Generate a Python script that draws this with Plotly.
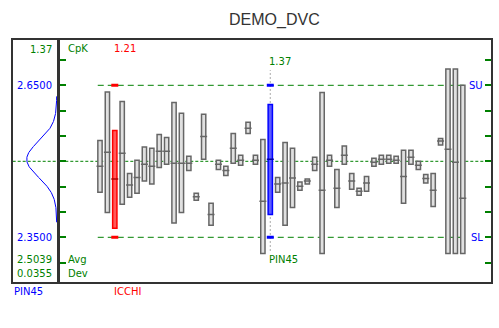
import numpy as np
import plotly.graph_objects as go

# ---------------- data ----------------
names = [f"DIM{i + 1:02d}" for i in range(50)]
names[2] = "ICCHI"
names[23] = "PIN45"

upper = [2.541, 2.637, 2.561, 2.618, 2.476, 2.502, 2.528, 2.526, 2.553, 2.547,
         2.616, 2.595, 2.510, 2.437, 2.593, 2.417, 2.502, 2.490, 2.555, 2.512,
         2.577, 2.512, 2.543, 2.612, 2.468, 2.537, 2.526, 2.459, 2.465, 2.508,
         2.636, 2.512, 2.484, 2.530, 2.476, 2.447, 2.470, 2.506, 2.512, 2.512,
         2.510, 2.522, 2.522, 2.500, 2.474, 2.476, 2.545, 2.682, 2.682, 2.650]
median = [2.490, 2.518, 2.465, 2.516, 2.453, 2.468, 2.494, 2.490, 2.520, 2.520,
          2.496, 2.496, 2.496, 2.430, 2.549, 2.395, 2.494, 2.482, 2.526, 2.502,
          2.565, 2.502, 2.421, 2.504, 2.455, 2.457, 2.467, 2.451, 2.461, 2.494,
          2.443, 2.502, 2.447, 2.512, 2.461, 2.441, 2.457, 2.498, 2.504, 2.504,
          2.502, 2.470, 2.508, 2.492, 2.466, 2.443, 2.540, 2.524, 2.498, 2.427]
lower = [2.439, 2.399, 2.368, 2.415, 2.429, 2.437, 2.461, 2.455, 2.488, 2.494,
         2.378, 2.399, 2.482, 2.423, 2.504, 2.374, 2.484, 2.472, 2.496, 2.492,
         2.555, 2.494, 2.318, 2.395, 2.439, 2.374, 2.409, 2.443, 2.455, 2.482,
         2.318, 2.490, 2.409, 2.494, 2.445, 2.433, 2.441, 2.490, 2.494, 2.496,
         2.496, 2.417, 2.494, 2.484, 2.457, 2.411, 2.532, 2.318, 2.318, 2.318]

USL, LSL, NOM = 2.65, 2.35, 2.50
sel_name, sel_cpk, sel_avg, sel_dev = "PIN45", 1.37, 2.5039, 0.0355
hl_name, hl_cpk = "ICCHI", 1.21
title = "DEMO_DVC"

# ---------------- helpers ----------------
W, H = 499, 328
def px(x): return x / W
def py(y): return 1 - y / H

GREEN, RED, BLUE, DARK = "#008000", "#ff0000", "#0000ff", "#333333"
FONT = "DejaVu Sans"

n = len(names)
xs = list(range(n))
sel = names.index(sel_name)
hl = names.index(hl_name)

fill = ["#e0e0e0"] * n
edge = ["#666666"] * n
medc = ["#666666"] * n
fill[hl], edge[hl], medc[hl] = "#ff5a5a", RED, "#b00000"
fill[sel], edge[sel], medc[sel] = "#5a5aff", BLUE, "#0000a0"

fig = go.Figure()
fig.add_bar(x=xs, y=[u - l for u, l in zip(upper, lower)], base=lower, width=0.58,
            marker=dict(color=fill, line=dict(color=edge, width=1.5)),
            xaxis="x", yaxis="y", showlegend=False, hoverinfo="skip")
fig.add_scatter(x=xs, y=median, mode="markers",
                marker=dict(symbol="line-ew", size=5, line=dict(color=medc, width=1.5)),
                xaxis="x", yaxis="y", showlegend=False, hoverinfo="skip")
fig.add_scatter(x=[hl, hl, sel, sel], y=[USL, LSL, USL, LSL], mode="markers",
                marker=dict(symbol="line-ew", size=5,
                            line=dict(color=[RED, RED, BLUE, BLUE], width=3)),
                xaxis="x", yaxis="y", showlegend=False, hoverinfo="skip")

# normal curve of selected feature
yy = np.linspace(sel_avg - 3.5 * sel_dev, sel_avg + 3.5 * sel_dev, 300)
pdf = np.exp(-0.5 * ((yy - sel_avg) / sel_dev) ** 2) / (sel_dev * np.sqrt(2 * np.pi))
pmax = pdf.max()
fig.add_scatter(x=pdf, y=yy, mode="lines", line=dict(color=BLUE, width=1),
                xaxis="x2", yaxis="y2", showlegend=False, hoverinfo="skip")

yr = [2.2618, 2.7394]
ydom = [py(282), py(40)]
fig.update_layout(
    width=W, height=H, margin=dict(l=0, r=0, t=0, b=0),
    paper_bgcolor="white", plot_bgcolor="white", barmode="overlay",
    xaxis=dict(domain=[px(60.3), px(490.7)], range=[-5.36, 52.77], anchor="y",
               showline=True, mirror=True, linecolor=DARK, linewidth=2,
               showgrid=False, zeroline=False, showticklabels=False, ticks=""),
    yaxis=dict(domain=ydom, range=yr, anchor="x",
               showline=True, mirror="ticks", linecolor=DARK, linewidth=2,
               ticks="inside", ticklen=6, tickwidth=1.5, tickcolor=GREEN,
               tick0=2.5, dtick=0.05,
               showgrid=False, zeroline=False, showticklabels=False),
    xaxis2=dict(domain=[px(12.7), px(57.3)], range=[pmax * 1.467, -pmax * 0.019], anchor="y2",
                showline=True, mirror=True, linecolor=DARK, linewidth=2,
                showgrid=False, zeroline=False, showticklabels=False, ticks=""),
    yaxis2=dict(domain=ydom, range=yr, anchor="x2",
                showline=True, mirror=True, linecolor=DARK, linewidth=2,
                showgrid=False, zeroline=False, showticklabels=False, ticks=""),
)

shapes = [
    dict(type="line", xref="x domain", yref="y", x0=0, x1=1, y0=NOM, y1=NOM,
         line=dict(color=GREEN, width=1, dash="3px,2px"), layer="below"),
    dict(type="line", xref="x2 domain", yref="y2", x0=0, x1=1, y0=NOM, y1=NOM,
         line=dict(color=GREEN, width=1, dash="3px,2px"), layer="below"),
    dict(type="line", xref="x", yref="y", x0=-0.3, x1=49.6, y0=USL, y1=USL,
         line=dict(color=GREEN, width=1, dash="6px,4px"), layer="below"),
    dict(type="line", xref="x", yref="y", x0=-0.3, x1=49.6, y0=LSL, y1=LSL,
         line=dict(color=GREEN, width=1, dash="6px,4px"), layer="below"),
    dict(type="line", xref="x", yref="y", x0=sel, x1=sel, y0=2.323, y1=2.680,
         line=dict(color="#aaaaaa", width=1, dash="2px,2px"), layer="below"),
]
fig.update_layout(shapes=shapes)

anns = []
def ann(text, x, y, color, xanchor="left", xref="paper", size=10, family=FONT, xshift=0):
    anns.append(dict(text=text, x=x, y=py(y), xref=xref, yref="paper",
                     xanchor=xanchor, yanchor="middle", showarrow=False, xshift=xshift,
                     font=dict(family=family, size=size, color=color)))

ann(title, px(274.5), 20, DARK, xanchor="center", size=16, family="Liberation Sans")
ann("CpK", px(65.5), 48.5, GREEN)
ann(f"{hl_cpk:.2f}", hl, 48.5, RED, xref="x", xshift=-3)
ann(f"{sel_cpk:.2f}", sel, 62, GREEN, xref="x", xshift=-3)
ann(sel_name, sel, 259, GREEN, xref="x", xshift=-3)
ann(hl_name, hl, 291, RED, xref="x", xshift=-3)
ann(sel_name, px(12), 291, BLUE)
ann("SU", px(484.5), 85, BLUE, xanchor="right")
ann("SL", px(484.5), 237, BLUE, xanchor="right")
ann("Avg", px(65.5), 259.5, GREEN)
ann("Dev", px(65.5), 273, GREEN)
ann(f"{sel_cpk:.2f}", px(53.5), 49, GREEN, xanchor="right")
ann(f"{USL:.4f}", px(53.5), 85, BLUE, xanchor="right")
ann(f"{LSL:.4f}", px(53.5), 237.5, BLUE, xanchor="right")
ann(f"{sel_avg:.4f}", px(53.5), 259, GREEN, xanchor="right")
ann(f"{sel_dev:.4f}", px(53.5), 273, GREEN, xanchor="right")
fig.update_layout(annotations=anns)

fig.write_html("out.html")
